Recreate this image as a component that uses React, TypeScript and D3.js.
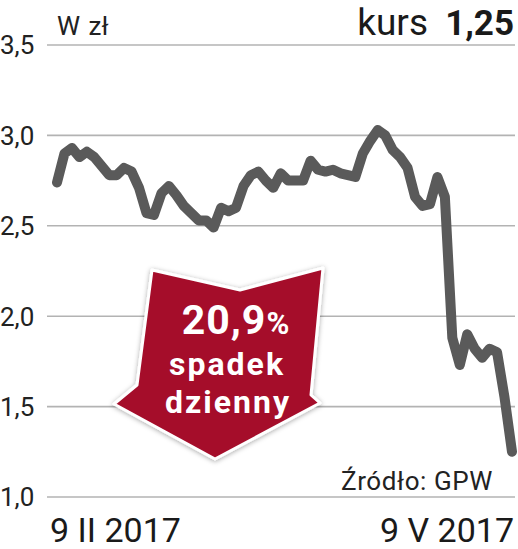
import * as d3 from 'd3';

// kurs akcji, 9 II 2017 - 9 V 2017 (zł)
const prices = [
  2.74, 2.9, 2.93, 2.88, 2.91, 2.88, 2.83, 2.78, 2.78, 2.82,
  2.8, 2.71, 2.57, 2.56, 2.68, 2.72, 2.67, 2.61, 2.57, 2.53,
  2.53, 2.49, 2.6, 2.58, 2.6, 2.72, 2.78, 2.8, 2.75, 2.71,
  2.79, 2.75, 2.75, 2.75, 2.86, 2.81, 2.8, 2.81, 2.79, 2.78,
  2.77, 2.9, 2.97, 3.03, 3.0, 2.92, 2.88, 2.82, 2.66, 2.61,
  2.62, 2.77, 2.66, 1.88, 1.73, 1.9, 1.82, 1.77, 1.82, 1.8,
  1.55, 1.25,
];
const yTicks = [1.0, 1.5, 2.0, 2.5, 3.0, 3.5];
const dateLabels = ['9 II 2017', '9 V 2017'];
const unitLabel = 'W zł';
const lastLabel = 'kurs';
const lastValue = '1,25';
const dropPct = '20,9';
const dropWords = ['spadek', 'dzienny'];
const sourceLabel = 'Źródło: GPW';

const W = 518;
const H = 549;
const font = "'Roboto', 'Liberation Sans', sans-serif";
const fmt = (v: number) => v.toFixed(1).replace('.', ',');

export default function App() {
  const x = d3.scaleLinear().domain([0, prices.length - 1]).range([57, 512]);
  const y = d3.scaleLinear().domain([1.0, 3.5]).range([497, 45]);

  const line = d3
    .line<number>()
    .x((_, i) => x(i))
    .y((d) => y(d));

  // strzałka spadku (w układzie pikseli)
  const arrow = d3.line()([
    [152, 270], [240, 290], [323, 268], [311, 395], [320, 403],
    [215, 459], [114, 404], [137, 385],
  ]) + 'Z';

  return (
    <svg width={W} height={H} style={{ position: 'absolute', left: 0, top: 0, background: '#fff' }}>
      <defs>
        <filter id="shadow" x="-20%" y="-20%" width="140%" height="140%">
          <feDropShadow dx="0" dy="1" stdDeviation="2.5" floodColor="#000" floodOpacity="0.35" />
        </filter>
      </defs>

      {yTicks.map((t) => (
        <g key={t}>
          <line x1={47} x2={515} y1={y(t)} y2={y(t)} stroke="#b3b3b3" strokeWidth={1.6} />
          <text x={0} y={y(t)} dy="0.36em" fontFamily={font} fontSize={26} fill="#222">
            {fmt(t)}
          </text>
        </g>
      ))}

      <text x={57} y={35} fontFamily={font} fontSize={26} wordSpacing={2} fill="#222">{unitLabel}</text>
      <text x={428} y={35} textAnchor="end" fontFamily={font} fontSize={37} fill="#1a1a1a">{lastLabel}</text>
      <text x={514} y={35} textAnchor="end" fontFamily={font} fontSize={35} fontWeight="bold" fill="#1a1a1a">{lastValue}</text>

      <path d={line(prices) ?? ''} fill="none" stroke="#5a5a5a" strokeWidth={10} strokeLinejoin="round" strokeLinecap="round" />

      <text x={493} y={490} textAnchor="end" fontFamily={font} fontSize={26} letterSpacing={0.6} fill="#222">{sourceLabel}</text>

      <g>
        <path d={arrow} fill="#a50e2c" stroke="#fff" strokeWidth={3} strokeLinejoin="round" filter="url(#shadow)" />
        <text x={236} y={334} textAnchor="middle" fontFamily={font} fontWeight="bold" fontSize={41} letterSpacing={1} fill="#fff">
          {dropPct}
          <tspan fontSize={31}>%</tspan>
        </text>
        <text x={227} y={375} textAnchor="middle" fontFamily={font} fontWeight="bold" fontSize={32} letterSpacing={2} fill="#fff">{dropWords[0]}</text>
        <text x={228} y={413} textAnchor="middle" fontFamily={font} fontWeight="bold" fontSize={32} letterSpacing={2} fill="#fff">{dropWords[1]}</text>
      </g>

      <text x={50} y={542} fontFamily={font} fontSize={34} fill="#1a1a1a">{dateLabels[0]}</text>
      <text x={514} y={542} textAnchor="end" fontFamily={font} fontSize={34} fill="#1a1a1a">{dateLabels[1]}</text>
    </svg>
  );
}
